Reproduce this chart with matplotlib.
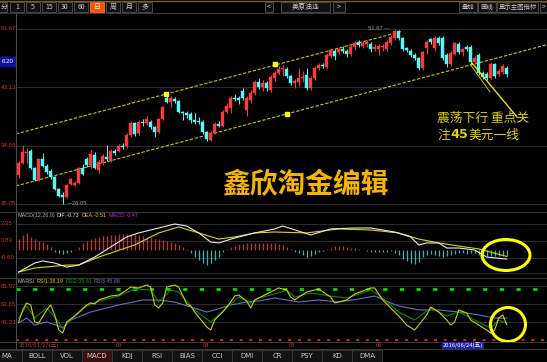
import matplotlib
matplotlib.use("Agg")
import matplotlib.pyplot as plt
from matplotlib.patches import Rectangle, Ellipse
from matplotlib.lines import Line2D

# ================================================================================
# daily candles of US crude (continuous), index 0 = 2016/01/27
opens = [
    30.30, 32.06, 33.52, 33.81, 31.32, 29.56, 32.64, 31.61, 30.88, 30.00,
    28.25, 27.37, 27.07, 28.98, 28.83, 29.12, 31.32, 32.64, 31.76, 33.22,
    31.03, 32.06, 32.94, 32.49, 33.81, 33.81, 34.54, 34.54, 36.15, 37.91,
    36.44, 38.06, 37.91, 38.06, 37.32, 36.59, 38.50, 41.57, 40.98, 41.42,
    41.13, 39.52, 39.38, 39.23, 38.35, 38.20, 38.06, 36.59, 35.42, 36.44,
    37.76, 37.47, 39.52, 40.10, 41.57, 41.57, 42.59, 39.81, 41.28, 42.30,
    43.91, 43.18, 43.76, 42.74, 44.50, 45.23, 45.81, 45.81, 44.79, 43.76,
    43.91, 44.50, 44.93, 43.03, 44.50, 45.96, 46.40, 46.11, 47.72, 48.45,
    48.30, 48.74, 48.45, 48.01, 49.03, 49.77, 49.18, 49.47, 49.47, 48.74,
    48.74, 49.03, 48.74, 49.62, 50.35, 51.38, 50.35, 48.89, 48.45, 47.86,
    47.42, 45.96, 48.89, 50.20, 48.89, 50.35, 50.35, 47.86, 46.54, 48.01,
    49.47, 48.30, 49.03, 49.03, 46.84, 47.86, 45.23, 45.08, 44.50, 46.54,
    45.08, 45.37, 45.96]
closes = [
    32.06, 33.66, 33.66, 31.32, 29.56, 32.64, 31.61, 30.73, 30.00, 28.25,
    27.22, 27.07, 28.83, 29.71, 29.12, 31.32, 30.44, 31.76, 33.37, 31.32,
    32.20, 33.07, 32.64, 33.81, 33.52, 34.54, 34.40, 36.15, 37.91, 36.30,
    38.06, 37.91, 38.50, 37.32, 36.59, 38.50, 40.25, 40.98, 41.57, 41.13,
    39.52, 39.38, 39.08, 38.35, 38.06, 38.06, 36.59, 35.57, 36.44, 37.76,
    37.47, 39.52, 40.40, 41.57, 41.42, 41.28, 41.57, 41.57, 42.30, 43.91,
    43.18, 43.76, 43.03, 44.64, 45.23, 45.81, 45.96, 44.79, 43.76, 44.06,
    44.50, 44.64, 43.03, 44.50, 45.96, 46.40, 46.25, 47.86, 48.60, 47.72,
    48.74, 48.45, 48.01, 49.03, 49.62, 49.33, 49.62, 49.77, 48.74, 49.03,
    49.18, 49.18, 49.77, 50.50, 51.38, 50.35, 48.74, 48.60, 47.86, 47.42,
    45.96, 48.30, 49.77, 49.77, 50.35, 49.62, 47.42, 46.54, 48.16, 49.62,
    48.30, 48.74, 48.74, 46.84, 47.42, 45.23, 44.64, 44.50, 46.54, 44.79,
    45.52, 46.25, 45.08]
highs = [
    32.40, 34.69, 34.25, 34.10, 31.50, 32.80, 33.52, 31.90, 31.10, 30.20,
    28.40, 27.80, 29.00, 29.90, 29.40, 31.50, 31.90, 32.90, 34.00, 33.60,
    32.50, 33.40, 34.69, 34.10, 34.10, 34.80, 35.00, 36.40, 38.20, 38.10,
    38.30, 38.50, 38.90, 38.30, 37.50, 38.70, 40.40, 41.80, 41.90, 41.70,
    41.30, 39.70, 39.60, 39.50, 39.40, 38.80, 38.30, 36.80, 36.70, 38.00,
    38.20, 39.80, 40.90, 41.80, 42.20, 41.80, 43.00, 41.80, 42.80, 44.20,
    44.50, 44.20, 44.06, 44.90, 45.50, 46.30, 46.40, 46.10, 45.00, 44.40,
    46.00, 45.50, 46.00, 44.80, 46.20, 46.70, 46.70, 48.10, 48.90, 48.70,
    49.00, 49.20, 48.70, 49.30, 49.90, 50.10, 49.90, 50.00, 49.70, 49.40,
    49.50, 49.40, 50.00, 50.80, 51.67, 51.50, 50.50, 49.10, 48.70, 48.10,
    47.60, 48.50, 50.00, 50.40, 50.60, 50.60, 50.60, 48.10, 48.40, 49.80,
    49.70, 48.90, 49.30, 49.30, 47.70, 48.10, 45.50, 45.30, 46.80, 46.70,
    45.80, 46.50, 46.30]
lows = [
    29.80, 31.90, 32.06, 31.20, 29.40, 29.40, 31.40, 30.50, 29.70, 28.10,
    27.00, 26.05, 26.90, 28.80, 28.70, 28.90, 30.30, 31.50, 31.30, 31.10,
    30.60, 31.80, 32.40, 32.20, 33.20, 33.60, 34.10, 34.30, 35.90, 36.00,
    36.20, 37.50, 37.60, 37.00, 35.80, 36.40, 38.30, 40.80, 40.30, 40.90,
    39.30, 38.30, 38.70, 37.90, 37.80, 37.70, 36.30, 35.30, 35.20, 36.30,
    37.30, 37.30, 39.30, 39.40, 41.10, 40.70, 41.20, 38.90, 40.90, 42.00,
    42.90, 42.60, 42.60, 42.40, 44.10, 44.90, 44.80, 44.50, 43.40, 43.10,
    43.30, 43.90, 42.80, 42.80, 44.20, 45.60, 45.90, 45.90, 47.40, 47.10,
    48.00, 48.10, 47.60, 47.70, 48.60, 49.00, 48.90, 49.10, 48.30, 48.40,
    47.90, 48.50, 48.40, 49.30, 50.10, 50.10, 48.50, 48.30, 47.60, 47.10,
    45.70, 45.70, 48.00, 49.50, 48.50, 49.30, 47.10, 46.10, 46.30, 47.80,
    48.00, 47.70, 48.40, 46.60, 46.50, 45.00, 44.30, 44.20, 44.30, 44.50,
    44.80, 45.10, 44.70]

# channel lines drawn on the chart (bar index, price)
upper_x = [-0.7, 95.6]
upper_y = [36.30, 51.29]
lower_x = [-0.7, 132.1]
lower_y = [28.69, 49.37]
anchor_x = [36.8, 64.1, 67.1]
anchor_y = [42.14, 46.50, 39.25]

price_ticks = [51.67, 43.13, 34.59, 26.05]

# MACD(12,26,9)
dif_x = [0, 4, 6, 9, 12, 15, 19, 23, 27, 30, 35, 39, 42, 45, 48, 50, 54, 59, 64,
         66, 73, 78, 84, 88, 94, 98, 100, 102, 105, 107, 110, 114, 117, 122]
dif_v = [-1.83, -1.07, -0.89, -1.07, -1.41, -1.24, -0.56, 0.30, 1.15, 1.49, 1.91,
         2.25, 2.08, 1.49, 0.72, 0.64, 1.06, 1.49, 1.83, 2.08, 1.32, 1.83, 1.91,
         1.91, 1.57, 1.15, 0.47, 0.64, 0.64, 0.21, 0.21, 0.04, -0.56, -0.73]
dea_x = [0, 4, 12, 15, 20, 29, 35, 40, 45, 50, 54, 59, 64, 72, 80, 88, 95, 100,
         105, 110, 115, 122]
dea_v = [-1.83, -1.49, -1.24, -1.24, -0.56, 0.47, 1.49, 2.00, 1.49, 0.97, 1.15,
         1.49, 1.57, 1.49, 1.83, 1.74, 1.49, 0.97, 0.64, 0.38, 0.13, -0.51]
macd_hist = [
    0.95, 1.32, 1.49, 1.15, 0.95, 0.83, 0.74, 0.55, 0.32, -0.13,
    -0.25, -0.30, -0.22, -0.10, 0.10, 0.30, 0.64, 0.81, 0.98, 1.06,
    1.15, 1.20, 1.25, 1.30, 1.35, 1.38, 1.40, 1.36, 1.40, 1.38,
    1.32, 1.25, 1.15, 1.06, 1.00, 0.95, 0.89, 0.80, 0.72, 0.60,
    0.45, 0.30, 0.10, -0.20, -0.55, -0.80, -1.06, -1.20, -1.06, -0.80,
    -0.55, -0.13, 0.10, 0.30, 0.38, 0.55, 0.55, 0.64, 0.64, 0.64,
    0.64, 0.60, 0.64, 0.64, 0.60, 0.55, 0.45, 0.30, 0.10, -0.10,
    -0.25, -0.40, -0.55, -0.45, -0.30, -0.15, -0.05, 0.10, 0.25, 0.35,
    0.40, 0.35, 0.30, 0.25, 0.20, 0.10, 0.05, -0.05, -0.10, -0.15,
    -0.12, -0.15, -0.10, -0.05, -0.20, -0.40, -0.70, -0.90, -1.10, -1.15,
    -1.00, -0.55, -0.40, -0.30, -0.35, -0.45, -0.55, -0.50, -0.40, -0.30,
    -0.25, -0.20, -0.30, -0.25, -0.20, -0.35, -0.45, -0.50, -0.50, -0.45,
    -0.45, -0.47, -0.47]
macd_ticks = [2.25, 0.83, -0.60]
macd_title = [("MACD(12,26,9)", "#b0b0b0"), ("DIF:-0.73", "#e8e8e8"),
              ("DEA:-0.51", "#d8d800"), ("MACD:-0.47", "#d020d0")]

# MARSI
rsi1_x = [0, 1, 2, 3, 4, 5, 7, 8, 9, 10, 11, 12, 14, 17, 18, 19, 20, 23, 25, 27,
          28, 30, 32, 33, 34, 35, 36, 37, 39, 40, 42, 43, 44, 47, 48, 49, 51, 53,
          54, 55, 57, 58, 59, 61, 63, 65, 67, 68, 69, 70, 72, 75, 78, 79, 82, 84,
          88, 89, 91, 95, 97, 99, 100, 102, 103, 105, 107, 108, 109, 110, 112,
          113, 115, 117, 118, 119, 120, 121, 122]
rsi1_v = [41.4, 55.6, 63.9, 61.5, 41.4, 40.2, 55.6, 61.5, 49.7, 31.9, 28.3, 41.4,
          48.5, 61.5, 63.9, 62.7, 67.4, 72.1, 73.3, 79.2, 82.8, 81.6, 85.2, 82.8,
          61.5, 57.9, 63.9, 82.8, 85.2, 82.8, 62.7, 60.3, 53.2, 35.4, 31.9, 43.7,
          53.2, 65.0, 72.1, 73.3, 66.2, 57.9, 67.4, 72.1, 76.9, 81.6, 79.2, 70.9,
          67.4, 70.9, 76.9, 80.4, 70.9, 63.9, 67.4, 74.5, 81.6, 81.6, 67.4, 48.5,
          37.8, 31.9, 37.8, 49.7, 59.1, 53.2, 43.7, 37.8, 41.4, 55.6, 52.0, 43.7,
          37.8, 31.9, 28.3, 31.9, 46.1, 49.7, 38.2]
rsi2_x = [0, 2, 4, 7, 9, 11, 13, 17, 20, 25, 29, 33, 35, 38, 40, 44, 48, 52, 55,
          58, 60, 64, 67, 69, 73, 78, 82, 88, 90, 95, 99, 103, 107, 110, 114, 118,
          120, 122]
rsi2_v = [46.1, 60.3, 46.1, 57.9, 47.3, 34.2, 43.7, 60.3, 66.2, 72.1, 80.4, 79.2,
          65.0, 79.2, 76.9, 55.6, 41.4, 57.9, 70.9, 63.9, 69.8, 74.5, 79.2, 70.9,
          75.7, 72.1, 69.8, 79.2, 73.3, 53.2, 43.7, 57.9, 48.5, 53.2, 43.7, 34.2,
          43.7, 39.6]
rsi3_x = [0, 2, 4, 7, 10, 11, 13, 18, 25, 31, 35, 39, 43, 47, 49, 53, 57, 60, 64,
          67, 70, 75, 80, 85, 89, 93, 95, 100, 105, 110, 115, 119, 122]
rsi3_v = [40.2, 46.1, 37.8, 41.4, 36.6, 34.2, 43.7, 53.2, 61.5, 67.4, 67.4, 65.0,
          59.1, 53.2, 55.6, 61.5, 65.0, 66.2, 69.8, 67.4, 65.0, 67.4, 65.0, 68.6,
          72.1, 63.9, 60.3, 55.6, 55.6, 53.2, 49.7, 46.1, 45.9]
rsi_ticks = [83.97, 62.65, 41.33]
rsi_title = [("MARSI", "#b0b0b0"), ("RSI1:38.19", "#d0d000"),
             ("RSI2:39.61", "#10a010"), ("RSI3:45.86", "#7070d0")]

# date axis
date_labels = ["2016/01/27(三)", "03", "04", "05", "06"]
date_idx = [0, 24.3, 46, 67.6, 89.3]
cursor_label = "2016/06/24(五)"
cursor_idx = 106

period_btns = ["1", "5", "15", "30", "60", "日", "周", "月", "多"]
tabs = ["MA", "BOLL", "VOL", "MACD", "KDJ", "RSI", "BIAS", "CCI", "DMI", "CR",
        "PSY", "KD", "DMA"]

# ================================================================================
W, H = 547, 362
BG = "#000000"
UP = "#ff3838"
DN = "#54f8f8"
GRID = "#2b2b2b"
TICKC = "#d83030"
CJK = ["Noto Sans CJK SC", "DejaVu Sans"]
NARROW = ["Liberation Sans Narrow", "Liberation Sans", "DejaVu Sans"]
plt.rcParams["font.family"] = CJK


def rect(x0, y0, x1, y1):
    return [x0 / W, 1 - y1 / H, (x1 - x0) / W, (y1 - y0) / H]


def fx(x):
    return x / W


def fy(y):
    return 1 - y / H


fig = plt.figure(figsize=(W / 100, H / 100), dpi=100, facecolor=BG)
rend = fig.canvas.get_renderer()

XL = (-0.675, 132.075)


def panel(box, ylim):
    ax = fig.add_axes(rect(*box))
    ax.set_facecolor(BG)
    ax.set_xlim(*XL)
    ax.set_ylim(*ylim)
    ax.set_xticks([])
    ax.set_yticks([])
    for s in ax.spines.values():
        s.set_visible(False)
    return ax


def seq_text(x0, y, parts, gap, **kw):
    # put texts one after another, measured so they do not collide
    x = x0
    for s, col, extra in parts:
        t = fig.text(fx(x), fy(y), s, color=col, ha="left", va="center", **kw, **extra)
        x += t.get_window_extent(renderer=rend).width + gap


# ================================================================================
# main candle panel
ax = panel((16, 13, 547, 211), (25.02, 54.01))
for p in price_ticks:
    ax.axhline(p, color=GRID, lw=0.8, zorder=0)

ax.plot(upper_x, upper_y, color="#c8c800", lw=0.8, ls=(0, (3, 1.5)), zorder=1)
ax.plot(lower_x, lower_y, color="#c8c800", lw=0.8, ls=(0, (3, 1.5)), zorder=1)

for i in range(len(opens)):
    o, c, h, l = opens[i], closes[i], highs[i], lows[i]
    col = UP if c >= o else DN
    ax.vlines(i, l, h, color=col, lw=0.7, zorder=2)
    lo, hi = min(o, c), max(o, c)
    ax.bar(i, max(hi - lo, 0.12), bottom=lo, width=0.72, color=col,
           edgecolor=col, lw=0.3, zorder=3)

ax.plot(anchor_x, anchor_y, ls="none", marker="s", ms=3.2, color="#ffff00", zorder=4)

ax.text(94 - 1.2, 51.67, "51.67 —", color="#9a9a9a", fontsize=4.2,
        family=NARROW, ha="right", va="center")
ax.text(11 + 1.0, 26.05, "←26.05", color="#9a9a9a", fontsize=4.2,
        family=NARROW, ha="left", va="center")

fig.text(fx(305), fy(185), "鑫欣淘金编辑", color="#f5b400", fontsize=20,
         fontweight="bold", ha="center", va="center", family=CJK)

fig.text(fx(437), fy(118), "震荡下行 重点关", color="#e0d000", fontsize=9.2,
         ha="left", va="center", family=CJK)
seq_text(437, 135, [("注", "#e0d000", {"family": CJK}),
                    ("45", "#e0d000", {"family": ["DejaVu Sans"], "fontweight": "bold"}),
                    ("美元一线", "#e0d000", {"family": CJK})], 0.3, fontsize=9.2)
fig.add_artist(Line2D([fx(472), fx(517)], [fy(63), fy(117)], color="#f0e000",
                      lw=1.0, transform=fig.transFigure))
fig.add_artist(Line2D([fx(470), fx(490)], [fy(64), fy(92)], color="#f0e000",
                      lw=0.6, transform=fig.transFigure))

# ================================================================================
# MACD panel
mx = panel((16, 212, 547, 277), (-2.255, 3.27))
for v in macd_ticks:
    mx.axhline(v, color=GRID, lw=0.8, zorder=0)
mx.axhline(-1.93, color=GRID, lw=0.8, zorder=0)
for i, v in enumerate(macd_hist):
    mx.vlines(i, 0, v, color="#c83030" if v >= 0 else "#3cb4b4", lw=0.9)
mx.plot(dea_x, dea_v, color="#d8d800", lw=0.8)
mx.plot(dif_x, dif_v, color="#e8e8e8", lw=0.8)

# MARSI panel
rx = panel((16, 278, 547, 341), (18.86, 93.45))
for v in rsi_ticks:
    rx.axhline(v, color=GRID, lw=0.8, zorder=0)
rx.axhline(80, color="#00e000", lw=2.0, ls=(0, (1.5, 4.5)))
rx.axhline(20, color="#e02020", lw=1.4, ls=(0, (1.5, 3.5)))
rx.plot(rsi3_x, rsi3_v, color="#6a6ad0", lw=0.8)
rx.plot(rsi2_x, rsi2_v, color="#0a8a0a", lw=0.8)
rx.plot(rsi1_x, rsi1_v, color="#d0d000", lw=0.8)

# ================================================================================
# frame lines
for y in [13, 211.5, 277.5, 341.5, 349]:
    fig.add_artist(Line2D([fx(0), fx(547)], [fy(y), fy(y)], color="#3a3a3a",
                          lw=0.7, transform=fig.transFigure))
fig.add_artist(Line2D([fx(16), fx(16)], [fy(13), fy(349)], color="#4a4a4a",
                      lw=0.8, transform=fig.transFigure))
fig.add_artist(Line2D([0, 1], [fy(0.5), fy(0.5)], color="#7a5a1e", lw=1.0,
                      transform=fig.transFigure))

# left tick labels
tk = dict(color=TICKC, fontsize=4.4, family=NARROW, ha="left", va="center")
for p in price_ticks:
    fig.text(fx(1), ax.transData.transform((0, p))[1] / H, "%.2f" % p, **tk)
for v in macd_ticks:
    fig.text(fx(1), mx.transData.transform((0, v))[1] / H, "%.2f" % v, **tk)
for v in rsi_ticks:
    fig.text(fx(1), rx.transData.transform((0, v))[1] / H, "%.2f" % v, **tk)
fig.patches.append(Rectangle((0, fy(66)), fx(15.5), 9 / H, color="#1010a0",
                             transform=fig.transFigure, figure=fig))
fig.text(fx(2), fy(61.5), "6.20", color="#ffffff", fontsize=4.4, family=NARROW,
         ha="left", va="center")

# indicator titles
seq_text(17, 215.5, [(s, c, {}) for s, c in macd_title], 2.0, fontsize=3.9,
         family=NARROW)
seq_text(17, 281.2, [(s, c, {}) for s, c in rsi_title], 2.0, fontsize=3.9,
         family=NARROW)

# circles
fig.patches.append(Ellipse((fx(506), fy(255)), 48 / W, 31 / H, fill=False,
                           ec="#ffff00", lw=2.2, transform=fig.transFigure, figure=fig))
fig.patches.append(Ellipse((fx(508), fy(324.5)), 35 / W, 34 / H, fill=False,
                           ec="#ffff00", lw=2.2, transform=fig.transFigure, figure=fig))

# date axis
for lab, i in zip(date_labels, date_idx):
    xp = rx.transData.transform((i, 0))[0] / W
    fig.text(xp, fy(345.3), lab, color="#d03030", fontsize=4.2, family=CJK,
             ha="left", va="center")
cx = rx.transData.transform((cursor_idx, 0))[0] / W
fig.text(cx, fy(345.3), cursor_label, color="#ffffff", fontsize=4.2, family=CJK,
         ha="left", va="center",
         bbox=dict(boxstyle="square,pad=0.15", fc="#2020a8", ec="none"))


# ================================================================================
# toolbar
def button(x0, x1, label, fc="#101010", ec="#505050", tc="#c8c8c8", fs=5.0, tx=None):
    fig.patches.append(Rectangle((fx(x0), fy(12)), (x1 - x0) / W, 10 / H, fc=fc,
                                 ec=ec, lw=0.6, transform=fig.transFigure, figure=fig))
    if tx is None:
        fig.text(fx((x0 + x1) / 2), fy(7), label, color=tc, fontsize=fs,
                 ha="center", va="center", family=CJK)
    else:
        fig.text(fx(tx), fy(7), label, color=tc, fontsize=fs,
                 ha="left", va="center", family=CJK)


button(-8, 7, "分", tx=0.5)
for k, lab in enumerate(period_btns):
    x0 = 10 + 16 * k
    if lab == "日":
        button(x0, x0 + 14, lab, fc="#ff5500", ec="#ff7030", tc="#ffffff")
    else:
        button(x0, x0 + 14, lab)
button(265, 273, "<")
button(281, 330, "美原油连")
button(333, 345, ">")
button(459, 477, "叠加", fs=4.6)
button(478, 496, "画线", fs=4.6)
button(497, 538, "显示主图指标", fs=4.6)
button(540, 550, ">", tx=541.5)

# bottom tabs
for k, lab in enumerate(tabs):
    x0 = -8 + 30 * k
    fc = "#3a1010" if lab == "MACD" else "#121212"
    fig.patches.append(Rectangle((fx(x0), fy(362)), 30 / W, 12.5 / H, fc=fc,
                                 ec="#3c3c3c", lw=0.6, transform=fig.transFigure,
                                 figure=fig))
    fig.text(fx(x0 + 15), fy(356), lab, color="#c8c8c8", fontsize=5.0,
             ha="center", va="center", family=["DejaVu Sans"])

fig.savefig("out.png", dpi=100, facecolor=BG)
